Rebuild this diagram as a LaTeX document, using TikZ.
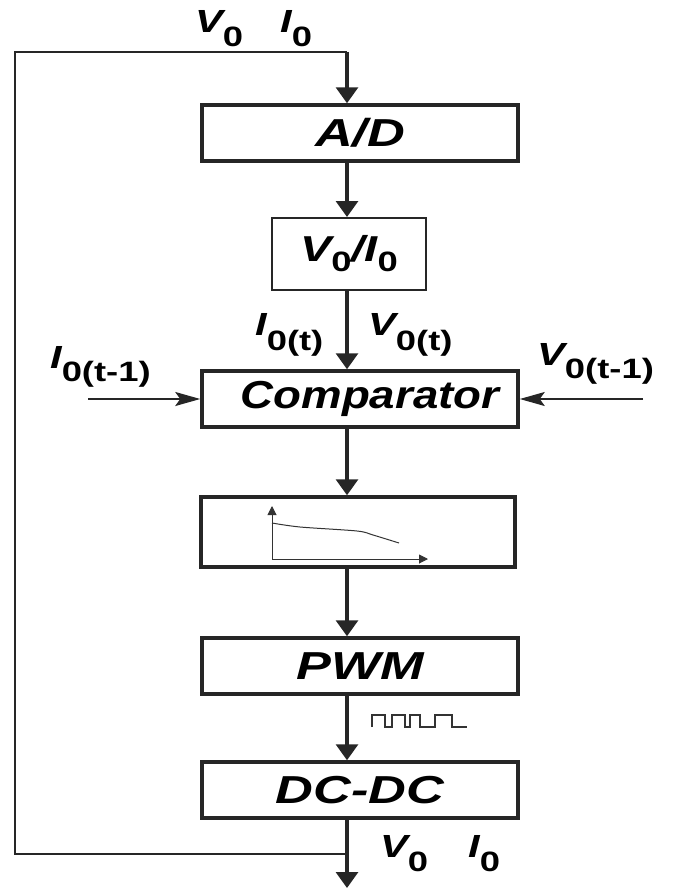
\documentclass[tikz,border=0pt]{standalone}
\usepackage{graphicx}
\usepackage{fontspec}
\setmainfont{Liberation Sans}
\usetikzlibrary{arrows.meta}

% wide bold-italic lettering of the original
\newcommand{\wide}[2][1.3]{\scalebox{#1}[1]{#2}}
\newcommand{\sig}[3][13pt]{\wide{\bfseries\itshape #2}\raisebox{-#1}{\fontsize{28}{30}\selectfont\upshape\bfseries\wide{#3}}}

\begin{document}
\begin{tikzpicture}[
  x=1pt, y=-1pt,
  blk/.style={draw=black!85, line width=3.5pt, minimum width=316pt,
    minimum height=56pt, inner sep=0pt,
    font=\fontsize{39}{42}\selectfont\bfseries\itshape},
  thin blk/.style={blk, line width=2pt, font=\fontsize{36}{40}\selectfont\bfseries\itshape},
  lbl/.style={anchor=base west, inner sep=0pt, font=\fontsize{32}{36}\selectfont},
  flow/.style={-{Triangle[length=16pt,width=22pt]}, line width=3.2pt, draw=black!85},
  fb/.style={line width=2.5pt, draw=black!85},
  inp/.style={-{Stealth[length=25pt,width=14pt,inset=5pt]}, line width=2pt, draw=black!85},
  axis/.style={-{Triangle[length=9pt,width=9pt]}, line width=1pt, draw=black!80}
]
\useasboundingbox (0,0) rectangle (678,891);

% ================= blocks =================
\node[blk]      (ad)    at (360,133) {\wide[1.34]{A/D}\hspace{32pt}};
\node[thin blk, minimum width=154pt, minimum height=72pt] (ratio) at (349,254)
  {\sig[10pt]{V}{0}\wide{/}\sig[10pt]{I}{0}};
\node[blk]      (comp)  at (360,399) {\hspace{20pt}\wide[1.17]{Comparator}};
\node[blk, minimum width=314pt, minimum height=70pt] (curve) at (358,532) {};
\node[blk]      (pwm)   at (360,666) {\wide[1.34]{PWM}\hspace{28pt}};
\node[blk]      (dcdc)  at (360,790) {\wide[1.34]{DC-DC}\hspace{16pt}};

% ================= feedback loop =================
\coordinate (fbtop) at (347,52);
\coordinate (fbtl)  at (15,52);
\coordinate (fbbl)  at (15,854);
\coordinate (fbbr)  at (347,854);
\coordinate (out)   at (347,888);
\draw[fb] (fbbr) -- (fbbl) -- (fbtl) -- (fbtop);

% ================= main flow =================
\draw[flow] (fbtop) -- (ad.north -| fbtop);
\draw[flow] (ad.south -| fbtop) -- (ratio.north -| fbtop);
\draw[flow] (ratio.south -| fbtop) -- (comp.north -| fbtop);
\draw[flow] (comp.south -| fbtop) -- (curve.north -| fbtop);
\draw[flow] (curve.south -| fbtop) -- (pwm.north -| fbtop);
\draw[flow] (pwm.south -| fbtop) -- (dcdc.north -| fbtop);
\draw[flow] (dcdc.south -| fbtop) -- (out);

% ================= side inputs =================
\coordinate (inl) at (88,399);
\coordinate (inr) at (643,399);
\draw[inp] (inl) -- (comp.west);
\draw[inp] (inr) -- (comp.east);

% ================= labels =================
\node[lbl] (vtop)  at (195,33)  {\sig[14pt]{V}{0}};
\node[lbl] (itop)  at (280,33)  {\sig[14pt]{I}{0}};
\node[lbl] (it)    at (255,335) {\sig[15pt]{I}{0(t)}};
\node[lbl] (vt)    at (368,335) {\sig[15pt]{V}{0(t)}};
\node[lbl] (itm)   at (50,368)  {\sig{I}{0(t-1)}};
\node[lbl] (vtm)   at (537,365) {\sig{V}{0(t-1)}};
\node[lbl] (vbot)  at (380,857) {\sig[14pt]{V}{0}};
\node[lbl] (ibot)  at (468,857) {\sig[14pt]{I}{0}};

% ================= curve sketch =================
\draw[axis] (272,559) -- (272,506);
\draw[axis] (272,559) -- (428,559);
\draw[line width=1pt, black!80] plot[smooth] coordinates
  {(272,523) (300,527) (357,531) (373,535) (399,543)};

% ================= pwm pulses =================
\draw[line width=2pt, black!80]
  (372,727) -- (372,715) -- (385,715) -- (385,727) -- (392,727) -- (392,715)
  -- (405,715) -- (405,727) -- (410,727) -- (410,715) -- (420,715) -- (420,727)
  -- (435,727) -- (435,715) -- (452,715) -- (452,727) -- (467,727);

\end{tikzpicture}
\end{document}
